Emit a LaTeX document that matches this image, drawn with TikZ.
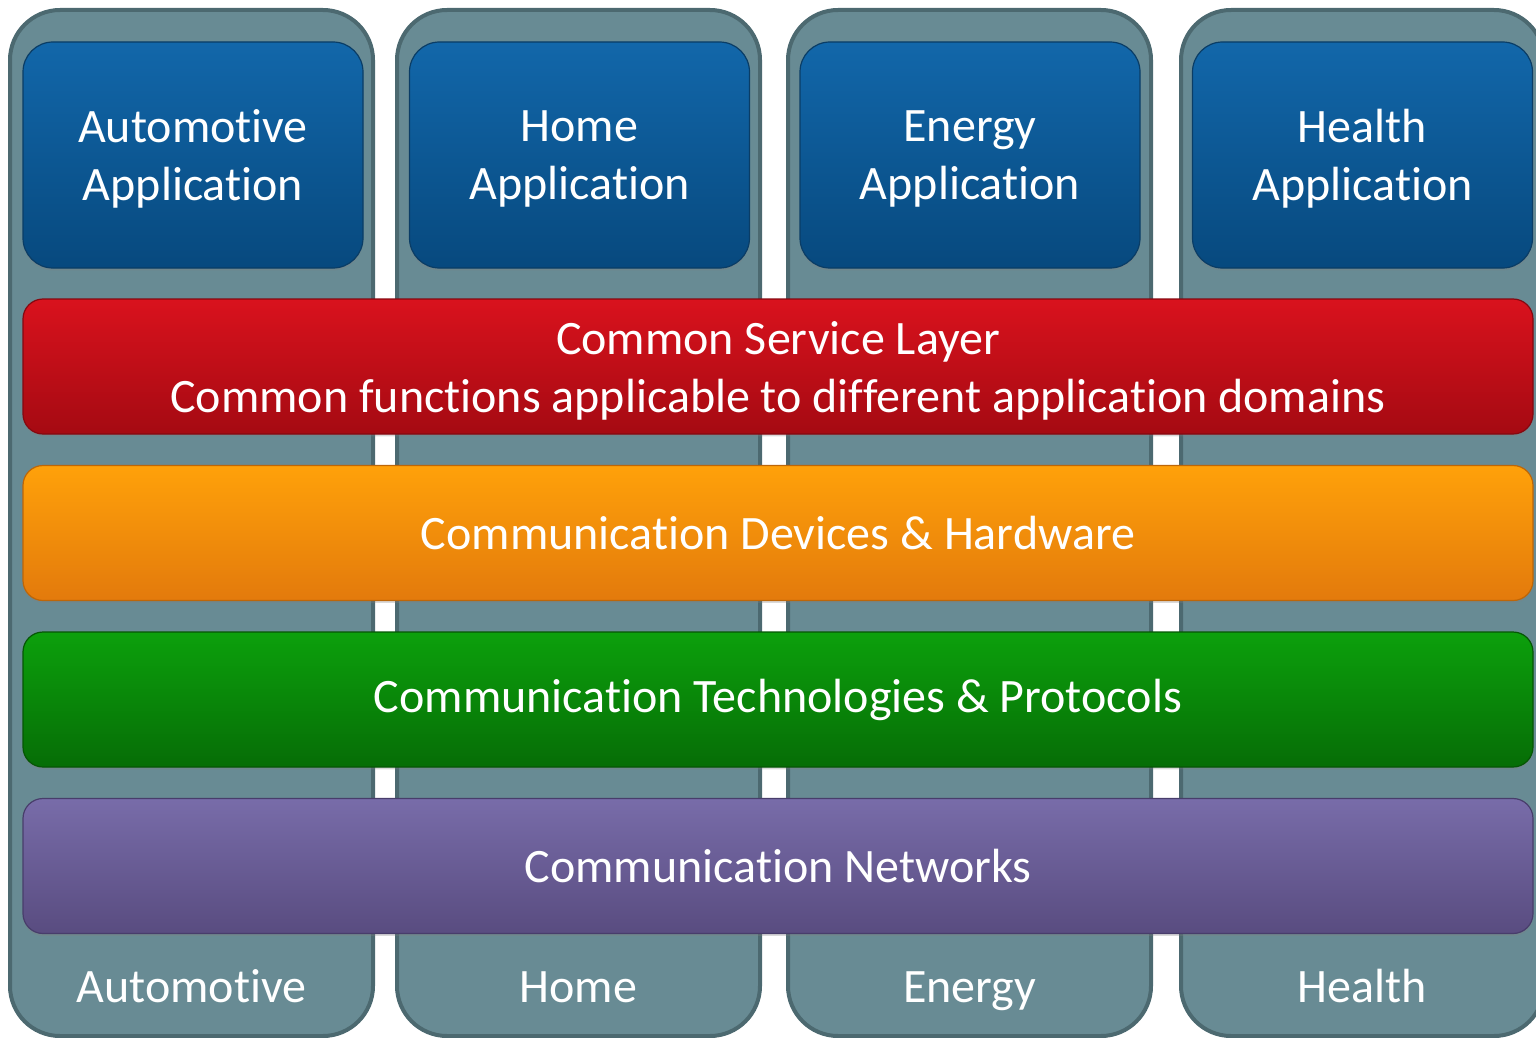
\documentclass[tikz,border=0pt]{standalone}
\usepackage{fontspec}
\setmainfont{Carlito}[Ligatures=NoCommon]
\usetikzlibrary{positioning,shadows}

\definecolor{colfill}{HTML}{688B94}
\definecolor{colline}{HTML}{4C6970}
\definecolor{apptop}{HTML}{1267AA}
\definecolor{appbot}{HTML}{07497E}
\definecolor{appline}{HTML}{0A3D66}
\definecolor{redtop}{HTML}{D9121D}
\definecolor{redbot}{HTML}{A50A12}
\definecolor{redline}{HTML}{850810}
\definecolor{orgtop}{HTML}{FFA10A}
\definecolor{orgbot}{HTML}{E37A0C}
\definecolor{orgline}{HTML}{BD6608}
\definecolor{grntop}{HTML}{0CA00C}
\definecolor{grnbot}{HTML}{066D06}
\definecolor{grnline}{HTML}{055605}
\definecolor{purtop}{HTML}{786CA9}
\definecolor{purbot}{HTML}{594C80}
\definecolor{purline}{HTML}{483D6B}

\newcommand{\labelfont}{\fontsize{24}{29}\selectfont}

\begin{document}
\begin{tikzpicture}[x=0.5pt,y=-0.5pt,
    column/.style={rectangle,draw=colline,fill=colfill,line width=2pt,rounded corners=25pt,minimum width=181.5pt,minimum height=513pt,anchor=center},
    appbox/.style={rectangle,draw=appline,line width=0.6pt,top color=apptop,bottom color=appbot,rounded corners=15pt,minimum width=170pt,minimum height=113pt,anchor=center,text=white,align=center,text depth=0pt,font=\labelfont,drop shadow={shadow xshift=0pt,shadow yshift=-1.2pt,opacity=0.3}},
    layer/.style={rectangle,line width=0.6pt,rounded corners=10pt,minimum width=755pt,minimum height=67.5pt,anchor=center,text=white,align=center,font=\labelfont,drop shadow={shadow xshift=0pt,shadow yshift=-1.2pt,opacity=0.3}},
    domainlabel/.style={text=white,anchor=base,font=\labelfont}]
    \useasboundingbox (0,0) rectangle (1536,1038);
    \clip (0,0) rectangle (1536,1038);

    % vertical domains
    \node[column] at (191.5,523) (CA) {};
    \node[column] at (578.5,523) (CH) {};
    \node[column] at (969.5,523) (CE) {};
    \node[column] at (1362.5,523) (CX) {};

    % applications
    \node[appbox] at (193,155) (AA) {Automotive\\Application};
    \node[appbox] at (579.5,155) (AH) {Home\\Application};
    \node[appbox] at (970,155) (AE) {Energy\\Application};
    \node[appbox] at (1362.5,155) (AX) {Health\\Application};

    % horizontal layers
    \node[layer,draw=redline,top color=redtop,bottom color=redbot,text depth=0pt] at (778,366.5) (SL) {Common Service Layer\\Common functions applicable to different application domains};
    \node[layer,draw=orgline,top color=orgtop,bottom color=orgbot] at (778,533) (DH) {Communication Devices \& Hardware};
    \node[layer,draw=grnline,top color=grntop,bottom color=grnbot] at (778,699.5) (TP) {Communication Technologies \& Protocols};
    \node[layer,draw=purline,top color=purtop,bottom color=purbot] at (778,866) (NW) {Communication Networks};

    % domain names
    \node[domainlabel] at (191.5,1002) (LA) {Automotive};
    \node[domainlabel] at (578.5,1002) (LH) {Home};
    \node[domainlabel] at (969.5,1002) (LE) {Energy};
    \node[domainlabel] at (1362.5,1002) (LX) {Health};
\end{tikzpicture}
\end{document}
